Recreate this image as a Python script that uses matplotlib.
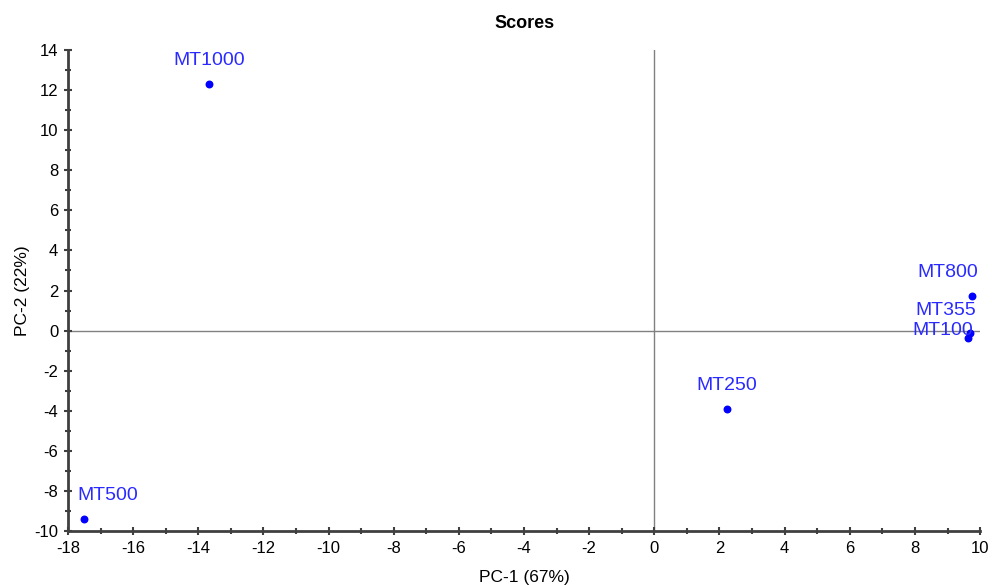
import matplotlib
matplotlib.use("Agg")
import matplotlib.pyplot as plt
from matplotlib.ticker import MultipleLocator

plt.rcParams['font.family'] = ['Liberation Sans', 'DejaVu Sans']
plt.rcParams['axes.unicode_minus'] = False

names = ["MT1000", "MT500", "MT250", "MT800", "MT355", "MT100"]
pc1 = [-13.67, -17.51, 2.23, 9.76, 9.70, 9.62]
pc2 = [12.30, -9.40, -3.91, 1.72, -0.12, -0.37]

# label placement (style)
label_align = ["center", "left", "center", "right", "right", "right"]
label_dy = [11, 11, 11, 11, 10, -1]

fig = plt.figure(figsize=(9.92, 5.85), dpi=100)
ax = fig.add_axes([0.0685, 0.0923, 0.9195, 0.8222])

ax.axvline(0, color='#808080', lw=1.0, zorder=1)
ax.axhline(0, color='#808080', lw=1.0, zorder=1)

ax.scatter(pc1, pc2, s=22, color='#0000ff', zorder=3, clip_on=False)

for n, x, y, ha, dy in zip(names, pc1, pc2, label_align, label_dy):
    dx = {"center": 0, "left": -5, "right": 4}[ha]
    ax.annotate(n, (x, y), xytext=(dx, dy), textcoords='offset points',
                ha=ha, va='bottom', fontsize=14, color='#2a2aff', zorder=4)

ax.set_xlim(-18, 10)
ax.set_ylim(-10, 14)
ax.xaxis.set_major_locator(MultipleLocator(2))
ax.xaxis.set_minor_locator(MultipleLocator(1))
ax.yaxis.set_major_locator(MultipleLocator(2))
ax.yaxis.set_minor_locator(MultipleLocator(1))

for s in ['top', 'right']:
    ax.spines[s].set_visible(False)
for s in ['left', 'bottom']:
    ax.spines[s].set_color('#404040')
    ax.spines[s].set_linewidth(2)

ax.tick_params(which='major', direction='inout', length=6, width=1.5, color='#404040', labelsize=12, pad=4)
ax.tick_params(which='minor', direction='inout', length=4, width=1.5, color='#404040')

ax.set_xlabel("PC-1 (67%)", fontsize=12.5, labelpad=10)
ax.set_ylabel("PC-2 (22%)", fontsize=12.5, labelpad=3)
ax.set_title("Scores", fontsize=13, fontweight='bold', pad=16)

fig.savefig("out.png", dpi=100)
